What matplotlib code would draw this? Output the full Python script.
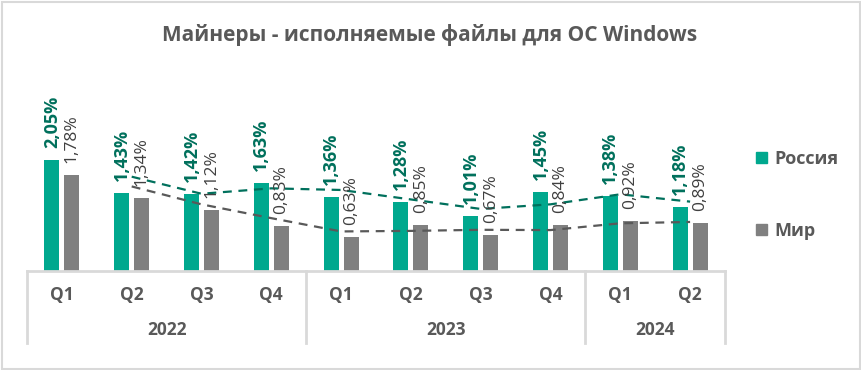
import numpy as np
import pandas as pd
import matplotlib
matplotlib.use("Agg")
import matplotlib.pyplot as plt
from matplotlib.patches import Patch

plt.rcParams['font.family'] = ['Open Sans', 'DejaVu Sans']

quarters = ['Q1', 'Q2', 'Q3', 'Q4', 'Q1', 'Q2', 'Q3', 'Q4', 'Q1', 'Q2']
years = ['2022', '2023', '2024']
year_sizes = [4, 4, 2]
russia = [2.05, 1.43, 1.42, 1.63, 1.36, 1.28, 1.01, 1.45, 1.38, 1.18]
world = [1.78, 1.34, 1.12, 0.83, 0.63, 0.85, 0.67, 0.84, 0.92, 0.89]

green = '#00A88E'
green_dark = '#00705C'
grey = '#808080'
grey_dark = '#595959'
line_col = '#D9D9D9'

W, H = 861, 370
fig = plt.figure(figsize=(W / 100, H / 100), dpi=100)
fig.patch.set_facecolor('white')

# outer frame
fig.add_artist(plt.Rectangle((1.5 / W, 1.5 / H), 1 - 3 / W, 1 - 3 / H, transform=fig.transFigure,
                             fill=False, edgecolor=line_col, linewidth=1.5))

left, right, bottom, top = 27, 725, 271, 70
ax = fig.add_axes([left / W, 1 - bottom / H, (right - left) / W, (bottom - top) / H])

x = np.arange(len(quarters))
bw = 0.215
off = 0.143
ax.bar(x - off, russia, bw, color=green, zorder=2)
ax.bar(x + off, world, bw, color=grey, zorder=2)

# moving average trend lines (period 2)
ma_r = pd.Series(russia).rolling(2).mean()
ma_w = pd.Series(world).rolling(2).mean()
ax.plot(x, ma_r, color=green_dark, linestyle=(0, (4, 3)), linewidth=1.6, zorder=3)
ax.plot(x, ma_w, color=grey_dark, linestyle=(0, (4, 3)), linewidth=1.6, zorder=3)

for xi, v in zip(x, russia):
    ax.annotate(f"{v:.2f}%".replace('.', ','), (xi - off, v), xytext=(0, 12),
                textcoords='offset pixels', rotation=90, ha='center', va='bottom',
                fontsize=13, fontweight='bold', color=green_dark, zorder=4)
for xi, v in zip(x, world):
    ax.annotate(f"{v:.2f}%".replace('.', ','), (xi + off, v), xytext=(0, 12),
                textcoords='offset pixels', rotation=90, ha='center', va='bottom',
                fontsize=12.5, color='#404040', zorder=4)

ax.set_xlim(-0.5, len(quarters) - 0.5)
ax.set_ylim(0, (bottom - top) / 54.2)
for s in ['left', 'right', 'top']:
    ax.spines[s].set_visible(False)
ax.spines['bottom'].set_color(line_col)
ax.spines['bottom'].set_linewidth(2)
ax.set_xticks([])
ax.set_yticks([])

# category axis: quarters, years, separators
tr = ax.get_xaxis_transform()
ah = bottom - top
for xi, q in zip(x, quarters):
    ax.text(xi, -24 / ah, q, transform=tr, ha='center', va='center',
            fontsize=12.5, fontweight='bold', color=grey_dark)
start = 0
seps = [-0.5]
for yr, n in zip(years, year_sizes):
    ax.text(start + (n - 1) / 2, -59 / ah, yr, transform=tr, ha='center', va='center',
            fontsize=12.5, fontweight='bold', color=grey_dark)
    start += n
    seps.append(start - 0.5)
for sx in seps:
    ax.plot([sx, sx], [0, -72 / ah], transform=tr, color=line_col, linewidth=2, clip_on=False)

fig.text(430 / W, 1 - 35 / H, 'Майнеры - исполняемые файлы для ОС Windows', ha='center', va='center',
         fontsize=15, fontweight='bold', color=grey_dark)

handles = [Patch(color=green, label='Россия'), Patch(color=grey, label='Мир')]
leg = fig.legend(handles=handles, loc='center left', bbox_to_anchor=(747 / W, 1 - 195 / H),
                 frameon=False, borderpad=0, handlelength=0.6, handleheight=0.6,
                 handletextpad=0.4, labelspacing=3.0, prop={'size': 13, 'weight': 'bold'})
for t in leg.get_texts():
    t.set_color(grey_dark)

fig.savefig('out.png', dpi=100)
